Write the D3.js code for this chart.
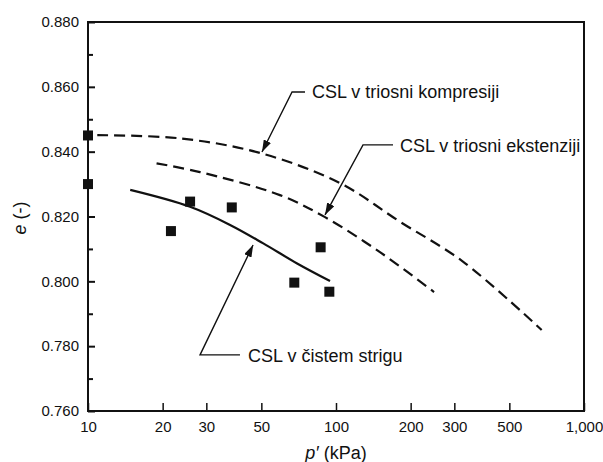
<!DOCTYPE html>
<html>
<head>
<meta charset="utf-8">
<script src="https://cdn.jsdelivr.net/npm/d3@7"></script>
<style>
  html, body { margin: 0; padding: 0; background: #fff; }
  svg { display: block; }
  text { font-family: "Liberation Sans", Arial, sans-serif; fill: #111; }
</style>
</head>
<body>
<svg id="chart" width="603" height="462"></svg>
<script>
// ---- data ----
const xTicks = [10, 20, 30, 50, 100, 200, 300, 500, 1000];
const xTickLabels = ["10", "20", "30", "50", "100", "200", "300", "500", "1,000"];
const yTicks = [0.760, 0.780, 0.800, 0.820, 0.840, 0.860, 0.880];
const yMinorTicks = [0.770, 0.790, 0.810, 0.830, 0.850, 0.870];

// measured points (p' kPa, e)
const pointsP = [10, 10, 21.6, 25.8, 38, 67.9, 86.7, 94];
const pointsE = [0.845, 0.830, 0.8155, 0.8246, 0.8228, 0.7996, 0.8105, 0.7968];

// CSL in simple shear (solid)
const shearP = [14.8, 25.8, 37.4, 50.9, 69.4, 94.6];
const shearE = [0.8282, 0.8230, 0.8174, 0.8117, 0.8056, 0.8001];

// CSL triaxial compression (dashed)
const compP = [10.9, 23.5, 49.4, 103.7, 181, 325, 675];
const compE = [0.8451, 0.8441, 0.8396, 0.8303, 0.8184, 0.8061, 0.7850];

// CSL triaxial extension (dashed)
const extP = [18.9, 28.3, 59.4, 90.3, 150.4, 248.5];
const extE = [0.8364, 0.8337, 0.8266, 0.8198, 0.8090, 0.7967];

// annotations: label, text anchor (p, e), elbow (p, e), horizontal end p, arrow tip (p, e)
const annLabels = ["CSL v triosni kompresiji", "CSL v triosni ekstenziji", "CSL v čistem strigu"];
const annTextPos = [[80.0, 0.8566], [181, 0.8399], [44.2, 0.7752]];
const annElbow = [[66.5, 0.8584], [128.5, 0.8421], [28.3, 0.7773]];
const annHorizEnd = [75.0, 169.8, 41.0];
const annTip = [[50.3, 0.8399], [90.3, 0.8205], [46.3, 0.8112]];

// ---- layout ----
const svg = d3.select("#chart");
const x = d3.scaleLog().domain([10, 1000]).range([88, 584]);
const y = d3.scaleLinear().domain([0.760, 0.880]).range([411, 22]);

svg.append("defs").append("marker")
  .attr("id", "arrow")
  .attr("viewBox", "0 0 12 8")
  .attr("refX", 12).attr("refY", 4)
  .attr("markerWidth", 12).attr("markerHeight", 8)
  .attr("markerUnits", "userSpaceOnUse")
  .attr("orient", "auto")
  .append("path").attr("d", "M0,0 L12,4 L0,8 Z").attr("fill", "#111");

// axes
const yAxis = d3.axisLeft(y).tickValues(yTicks).tickFormat(d3.format(".3f"))
  .tickSizeInner(-7).tickSizeOuter(0).tickPadding(9);
const gy = svg.append("g").attr("transform", `translate(${x.range()[0]},0)`).call(yAxis);
gy.select(".domain").remove();
gy.selectAll(".tick line").attr("stroke", "#111").attr("stroke-width", 2);
gy.selectAll(".tick text").attr("font-size", 15).attr("fill", "#111");

const yMinor = d3.axisLeft(y).tickValues(yMinorTicks).tickFormat("")
  .tickSizeInner(-5).tickSizeOuter(0);
const gym = svg.append("g").attr("transform", `translate(${x.range()[0]},0)`).call(yMinor);
gym.select(".domain").remove();
gym.selectAll(".tick line").attr("stroke", "#111").attr("stroke-width", 2);

const xAxis = d3.axisBottom(x).tickValues(xTicks)
  .tickFormat((d, i) => xTickLabels[i])
  .tickSizeInner(-8).tickSizeOuter(0).tickPadding(10);
const gx = svg.append("g").attr("transform", `translate(0,${y.range()[0]})`).call(xAxis);
gx.select(".domain").remove();
gx.selectAll(".tick line").attr("stroke", "#111").attr("stroke-width", 1.5);
gx.selectAll(".tick text").attr("font-size", 15).attr("fill", "#111");

// frame
svg.append("rect")
  .attr("x", x.range()[0]).attr("y", y.range()[1])
  .attr("width", x.range()[1] - x.range()[0])
  .attr("height", y.range()[0] - y.range()[1])
  .attr("fill", "none").attr("stroke", "#111").attr("stroke-width", 2);

// axis titles
const xt = svg.append("text")
  .attr("x", 336).attr("y", 459).attr("text-anchor", "middle").attr("font-size", 18);
xt.append("tspan").attr("font-style", "italic").text("p′");
xt.append("tspan").text(" (kPa)");

const yt = svg.append("text")
  .attr("transform", "translate(26,218) rotate(-90)")
  .attr("text-anchor", "middle").attr("font-size", 18);
yt.append("tspan").attr("font-style", "italic").text("e");
yt.append("tspan").text(" (-)");

// curves
const line = d3.line().x(d => x(d[0])).y(d => y(d[1])).curve(d3.curveCatmullRom.alpha(0.5));

svg.append("path")
  .datum(compP.map((p, i) => [p, compE[i]]))
  .attr("d", line).attr("fill", "none").attr("stroke", "#111")
  .attr("stroke-width", 2.2).attr("stroke-dasharray", "11,6");

svg.append("path")
  .datum(extP.map((p, i) => [p, extE[i]]))
  .attr("d", line).attr("fill", "none").attr("stroke", "#111")
  .attr("stroke-width", 2.2).attr("stroke-dasharray", "11,6");

svg.append("path")
  .datum(shearP.map((p, i) => [p, shearE[i]]))
  .attr("d", line).attr("fill", "none").attr("stroke", "#111")
  .attr("stroke-width", 2.2);

// points
const sq = 10;
svg.append("g").selectAll("rect")
  .data(pointsP.map((p, i) => [p, pointsE[i]]))
  .join("rect")
  .attr("x", d => x(d[0]) - sq / 2).attr("y", d => y(d[1]) - sq / 2)
  .attr("width", sq).attr("height", sq).attr("fill", "#111");

// annotations
annLabels.forEach((lab, i) => {
  const pts = [
    [x(annHorizEnd[i]), y(annElbow[i][1])],
    [x(annElbow[i][0]), y(annElbow[i][1])],
    [x(annTip[i][0]), y(annTip[i][1])]
  ];
  svg.append("path")
    .attr("d", d3.line()(pts))
    .attr("fill", "none").attr("stroke", "#111").attr("stroke-width", 1.4)
    .attr("marker-end", "url(#arrow)");
  svg.append("text")
    .attr("x", x(annTextPos[i][0])).attr("y", y(annTextPos[i][1]))
    .attr("font-size", 18).text(lab);
});
</script>
</body>
</html>
